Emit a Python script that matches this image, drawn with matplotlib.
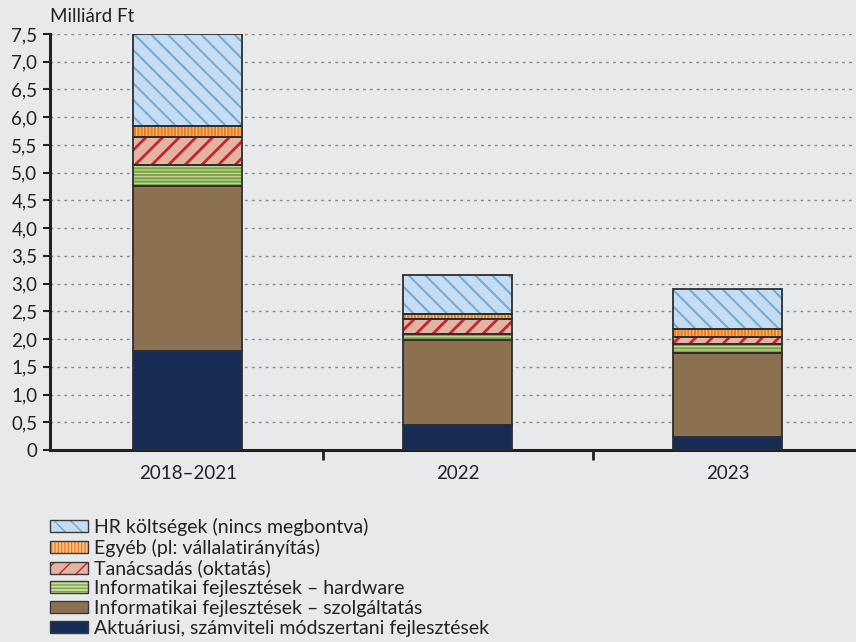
import numpy as np
import matplotlib
matplotlib.use('Agg')
import matplotlib.pyplot as plt
from matplotlib.patches import Patch

plt.rcParams['font.family'] = ['Lato', 'DejaVu Sans']

# years / periods
categories = ['2018–2021', '2022', '2023']

# series (bottom to top), billion HUF
aktuariusi = [1.78, 0.45, 0.24]
szolgaltatas = [2.98, 1.53, 1.515]
hardware = [0.37, 0.12, 0.165]
tanacsadas = [0.52, 0.26, 0.11]
egyeb = [0.20, 0.09, 0.145]
hr = [1.65, 0.70, 0.725]

labels = ['Aktuáriusi, számviteli módszertani fejlesztések',
          'Informatikai fejlesztések – szolgáltatás',
          'Informatikai fejlesztések – hardware',
          'Tanácsadás (oktatás)',
          'Egyéb (pl: vállalatirányítás)',
          'HR költségek (nincs megbontva)']

yticks = [0, 0.5, 1.0, 1.5, 2.0, 2.5, 3.0, 3.5, 4.0, 4.5, 5.0, 5.5, 6.0, 6.5, 7.0, 7.5]

series = [aktuariusi, szolgaltatas, hardware, tanacsadas, egyeb, hr]
# face colour, hatch colour, hatch, hatch line width
styles = [('#172b54', '#172b54', None, 1.0),
          ('#8b7150', '#8b7150', None, 1.0),
          ('#c8dba4', '#7ba542', '-----', 1.6),
          ('#e4b3a2', '#c0282d', '//', 2.0),
          ('#fac38f', '#f07d1a', '|||||', 1.6),
          ('#c6dcf1', '#6fa8d6', '\\\\', 1.4)]

bg = '#e8e9eb'
fig = plt.figure(figsize=(8.56, 6.42), dpi=100, facecolor=bg)
ax = fig.add_axes([50 / 856, 1 - 450 / 642, 810 / 856, 416 / 642])
ax.set_facecolor(bg)

x = np.arange(len(categories))
w = 0.405
bottom = np.zeros(len(categories))
handles = []
for vals, (fc, hc, h, hlw), lab in zip(series, styles, labels):
    vals = np.array(vals)
    with plt.rc_context({'hatch.linewidth': hlw}):
        bars = ax.bar(x, vals, w, bottom=bottom, color=fc, edgecolor=hc, hatch=h, linewidth=0, zorder=2)
        hp = Patch(facecolor=fc, edgecolor=hc, hatch=h, linewidth=0)
    for b in list(bars) + [hp]:
        if hasattr(b, 'set_hatch_linewidth'):
            b.set_hatch_linewidth(hlw)
    ax.bar(x, vals, w, bottom=bottom, fill=False, edgecolor='#2e2e2e', linewidth=1.3, zorder=3)
    bottom += vals
    handles.append((hp, Patch(fill=False, edgecolor='#3a3a3a', linewidth=1.0)))

ax.set_xlim(-0.51, 2.49)
ax.set_ylim(0, 7.5)
ax.set_yticks(yticks)
ax.set_yticklabels(['0'] + [f'{v:.1f}'.replace('.', ',') for v in yticks[1:]], fontsize=13.5, color='#222222')
ax.set_xticks(x)
ax.set_xticklabels(categories, fontsize=13.5, color='#222222')
ax.set_xticks([0.5, 1.5], minor=True)
ax.tick_params(axis='x', which='major', length=0, pad=11)
ax.tick_params(axis='x', which='minor', length=7, width=2, direction='out', color='#222222')
ax.tick_params(axis='y', length=5, width=1.5, direction='out', color='#222222', pad=4)

for v in yticks[1:]:
    ax.axhline(v, color='#8c8c8c', linestyle=(0, (2, 3)), linewidth=1.0, zorder=1)

for s in ['top', 'right']:
    ax.spines[s].set_visible(False)
for s in ['left', 'bottom']:
    ax.spines[s].set_linewidth(2.2)
    ax.spines[s].set_color('#222222')

fig.text(50 / 856, 1 - 17 / 642, 'Milliárd Ft', fontsize=13.5, color='#222222', va='center', ha='left')

leg = fig.legend(handles[::-1], labels[::-1], loc='upper left',
                 bbox_to_anchor=(50 / 856, 1 - 518 / 642), frameon=False,
                 fontsize=14, labelspacing=0.14, handlelength=1.95, handleheight=0.58,
                 handletextpad=0.33, borderaxespad=0, borderpad=0)
for t in leg.get_texts():
    t.set_color('#222222')

fig.savefig('out.png', dpi=100, facecolor=bg)
